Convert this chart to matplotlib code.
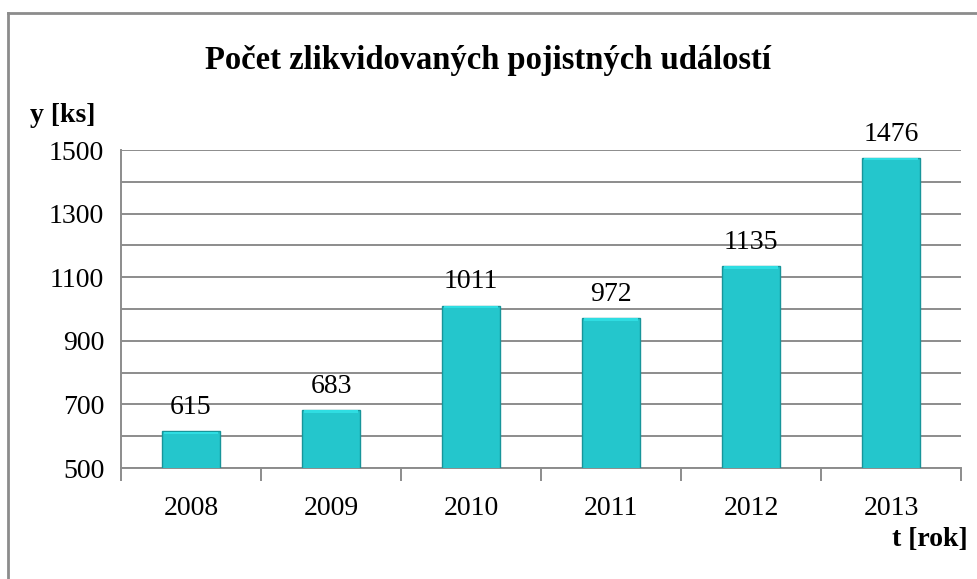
import matplotlib
matplotlib.use("Agg")
import matplotlib.pyplot as plt
from matplotlib.lines import Line2D
import numpy as np

years = ["2008", "2009", "2010", "2011", "2012", "2013"]
values = [615, 683, 1011, 972, 1135, 1476]
y_ticks = [500, 700, 900, 1100, 1300, 1500]

plt.rcParams['font.family'] = ['Liberation Serif', 'DejaVu Serif']

W, H = 977, 579
fig = plt.figure(figsize=(W/100, H/100), dpi=100)
ax = fig.add_axes([121/W, 1-468/H, (961-121)/W, (468-150)/H])

x = np.arange(len(years))
ax.bar(x, values, width=0.41, bottom=0, color="#24C6CC",
       edgecolor="#17959A", linewidth=1.0, zorder=3)
# lighter top highlight (bevel feel)
for xi, v in zip(x, values):
    ax.bar(xi, 8, bottom=v-9, width=0.39, color="#2FDDE2", linewidth=0, zorder=4)

ax.set_xlim(-0.5, len(years)-0.5)
ax.set_ylim(500, 1500)
ax.set_yticks(y_ticks)
ax.set_yticks(np.arange(500, 1501, 100), minor=True)
ax.yaxis.grid(True, which='both', color="#8C8C8C", linewidth=1.4, zorder=0)
ax.set_axisbelow(True)
ax.tick_params(axis='y', which='both', length=0, labelsize=20, pad=12)

ax.set_xticks(x)
ax.set_xticklabels(years)
ax.tick_params(axis='x', which='major', length=0, labelsize=20, pad=20)
ax.set_xticks(np.arange(-0.5, len(years), 1.0), minor=True)
ax.tick_params(axis='x', which='minor', length=9, width=1.4, color="#8C8C8C", direction='out')

for s in ['top', 'right']:
    ax.spines[s].set_visible(False)
for s in ['left', 'bottom']:
    ax.spines[s].set_color("#8C8C8C")
    ax.spines[s].set_linewidth(1.4)

for xi, v in zip(x, values):
    ax.annotate(str(v), (xi, v), xytext=(0, 8), textcoords='offset points',
                ha='center', va='bottom', fontsize=20)

fig.text(488/W, 1-60/H, "Počet zlikvidovaných pojistných událostí",
         ha='center', va='center', fontsize=23.5, fontweight='bold')
fig.text(30/W, 1-115/H, "y [ks]", ha='left', va='center', fontsize=20, fontweight='bold')
fig.text(968/W, 1-540/H, "t [rok]", ha='right', va='center', fontsize=20, fontweight='bold')

# outer chart border
fig.add_artist(Line2D([8/W, 8/W], [0, 1-13/H], color="#8C8C8C", linewidth=2, transform=fig.transFigure))
fig.add_artist(Line2D([8/W, 1], [1-13/H, 1-13/H], color="#8C8C8C", linewidth=2, transform=fig.transFigure))

fig.savefig("out.png", dpi=100)
